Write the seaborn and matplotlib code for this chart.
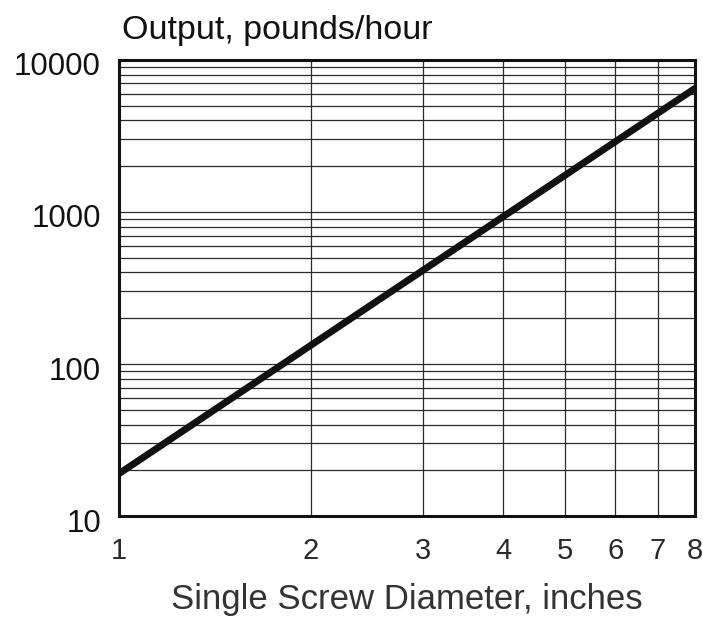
import matplotlib
matplotlib.use("Agg")
import matplotlib.pyplot as plt
import matplotlib.transforms as mtransforms
import seaborn as sns
import pandas as pd
from matplotlib.ticker import FixedLocator, NullFormatter, LogLocator

# Extruder output vs. screw diameter (log-log)
diameter_in = [1, 2, 4, 8]
output_lb_hr = [19, 133, 930, 6500]

x_ticks = [1, 2, 3, 4, 5, 6, 7, 8]
x_tick_labels = ["1", "2", "3", "4", "5", "6", "7", "8"]
y_ticks = [10, 100, 1000, 10000]
y_tick_labels = ["10", "100", "1000", "10000"]

sns.set_theme(style="white")
plt.rcParams["font.family"] = ["Liberation Sans", "DejaVu Sans"]

df = pd.DataFrame({"diameter": diameter_in, "output": output_lb_hr})

fig = plt.figure(figsize=(7.03, 6.18), dpi=100)
ax = fig.add_axes([0.1693, 0.165, 0.8193, 0.738])

sns.lineplot(data=df, x="diameter", y="output", ax=ax, color="#111111",
             linewidth=5, solid_capstyle="round", zorder=5)

ax.set_xscale("log")
ax.set_yscale("log")
ax.set_xlim(1, 8)
ax.set_ylim(10, 10000)

ax.xaxis.set_major_locator(FixedLocator(x_ticks))
ax.set_xticklabels(x_tick_labels)
ax.xaxis.set_minor_locator(FixedLocator([]))
ax.xaxis.set_minor_formatter(NullFormatter())

ax.yaxis.set_major_locator(FixedLocator(y_ticks))
ax.set_yticklabels(y_tick_labels)
ax.yaxis.set_minor_locator(LogLocator(base=10, subs=range(2, 10)))
ax.yaxis.set_minor_formatter(NullFormatter())

ax.grid(True, which="both", axis="y", color="#2a2a2a", linewidth=0.9)
ax.grid(True, which="major", axis="x", color="#2a2a2a", linewidth=0.9)

ax.tick_params(axis="x", which="both", length=0, pad=15, labelsize=21,
               labelcolor="#2a2a2a")
ax.tick_params(axis="y", which="both", length=0, pad=13, labelsize=22.5,
               labelcolor="#111111")

# nudge the y labels slightly below their grid lines
shift = mtransforms.ScaledTranslation(0, -4 / 100, fig.dpi_scale_trans)
for lbl in ax.get_yticklabels():
    lbl.set_transform(lbl.get_transform() + shift)

for side in ax.spines.values():
    side.set_color("#111111")
    side.set_linewidth(2.2)

ax.set_xlabel("Single Screw Diameter, inches", fontsize=25, color="#333333",
              labelpad=13)
ax.set_ylabel("")
fig.text(0.1735, 0.95, "Output, pounds/hour", fontsize=24.5, color="#111111",
         ha="left", va="center")

fig.savefig("out.png", dpi=100, facecolor="white")
